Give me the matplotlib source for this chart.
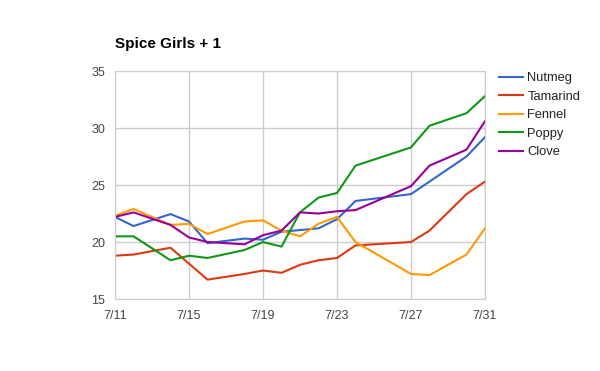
import matplotlib
matplotlib.use('Agg')
import matplotlib.pyplot as plt

plt.rcParams['font.family'] = ['Liberation Sans', 'DejaVu Sans']

days = [11, 12, 14, 15, 16, 18, 19, 20, 21, 22, 23, 24, 27, 28, 30, 31]
nutmeg = [22.2, 21.4, 22.45, 21.8, 19.9, 20.3, 20.2, 20.9, 21.05, 21.2, 22.0, 23.6, 24.2, 25.3, 27.5, 29.2]
tamarind = [18.8, 18.9, 19.5, 18.1, 16.7, 17.2, 17.5, 17.3, 18.0, 18.4, 18.6, 19.7, 20.0, 21.0, 24.2, 25.3]
fennel = [22.3, 22.9, 21.5, 21.6, 20.7, 21.8, 21.9, 21.0, 20.5, 21.6, 22.2, 20.0, 17.2, 17.1, 18.9, 21.2]
poppy = [20.5, 20.5, 18.4, 18.8, 18.6, 19.3, 20.0, 19.6, 22.6, 23.9, 24.3, 26.7, 28.3, 30.2, 31.3, 32.8]
clove = [22.2, 22.6, 21.5, 20.4, 20.0, 19.8, 20.6, 21.0, 22.6, 22.5, 22.7, 22.8, 24.9, 26.7, 28.1, 30.6]

names = ['Nutmeg', 'Tamarind', 'Fennel', 'Poppy', 'Clove']
series = [nutmeg, tamarind, fennel, poppy, clove]
colors = ['#3366cc', '#dc3912', '#ff9900', '#109618', '#990099']
xticks = [11, 15, 19, 23, 27, 31]
yticks = [15, 20, 25, 30, 35]

fig = plt.figure(figsize=(6, 3.71), dpi=100)
ax = fig.add_axes([0.1917, 0.194, 0.6166, 0.6146])

for name, vals, c in zip(names, series, colors):
    ax.plot(days, vals, color=c, lw=1.5, label=name)

ax.set_xlim(11, 31)
ax.set_ylim(15, 35)
ax.set_xticks(xticks)
ax.set_xticklabels(['7/%d' % d for d in xticks])
ax.set_yticks(yticks)
ax.grid(True, color='#cccccc', lw=1)
ax.set_axisbelow(True)
for s in ax.spines.values():
    s.set_color('#cccccc')
ax.tick_params(length=0, labelsize=9, colors='#444444', pad=8)
ax.tick_params(axis='y', pad=7)

fig.text(0.192, 0.881, 'Spice Girls + 1', fontsize=11, fontweight='bold', va='center')

ax.legend(loc='upper left', bbox_to_anchor=(1.006, 1.045), frameon=False, fontsize=9.3,
          handlelength=1.85, handletextpad=0.35, labelspacing=0.5, labelcolor='#222222')

fig.savefig('out.png', dpi=100)
